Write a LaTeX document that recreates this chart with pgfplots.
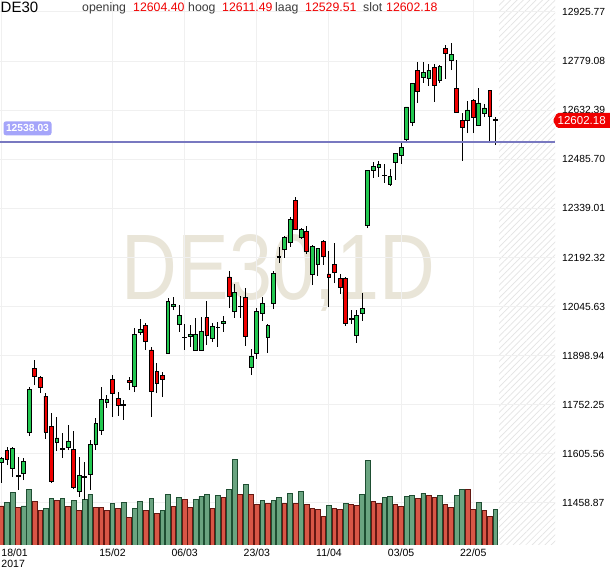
\documentclass[border=0pt]{standalone}
\usepackage{pgfplots}
\pgfplotsset{compat=1.18}
\usepackage{pgfplotstable}
\usepackage{fontspec}
\setmainfont{Liberation Sans}
\usetikzlibrary{patterns.meta}

\definecolor{cgreen}{RGB}{34,200,80}
\definecolor{cred}{RGB}{240,0,0}
\definecolor{vgreen}{RGB}{106,164,128}
\definecolor{vgreenD}{RGB}{30,78,50}
\definecolor{vred}{RGB}{216,86,70}
\definecolor{vredD}{RGB}{100,24,18}
\definecolor{gridc}{RGB}{240,240,240}
\definecolor{hatchc}{RGB}{228,228,228}
\definecolor{hline}{RGB}{120,120,192}
\definecolor{hlab}{RGB}{165,165,250}
\definecolor{wm}{RGB}{233,229,216}
\definecolor{hdr}{RGB}{60,60,60}

\pgfplotstableread{
i O H L C
0 11581 11596 11519 11593
1 11617 11626 11572 11590
2 11563 11626 11536 11623
3 11540 11596 11498 11539
4 11548 11593 11527 11584
5 11671 11805 11659 11799
6 11862 11886 11811 11838
7 11835 11838 11787 11805
8 11778 11787 11650 11671
9 11686 11728 11520 11524
10 11641 11716 11614 11653
11 11620 11668 11593 11621
12 11626 11692 11617 11644
13 11620 11674 11500 11504
14 11492 11596 11477 11542
15 11537 11581 11468 11536
16 11545 11647 11498 11635
17 11635 11713 11617 11695
18 11677 11805 11662 11767
19 11758 11781 11743 11767
20 11829 11841 11716 11787
21 11772 11790 11719 11749
22 11752 11767 11707 11751
23 11826 11835 11796 11820
24 11808 11982 11790 11961
25 11967 12009 11961 11976
26 11988 11997 11916 11940
27 11916 11925 11716 11793
28 11853 11877 11787 11817
29 11841 11850 11775 11829
30 11907 12071 11904 12060
31 12047 12074 12035 12053
32 11991 12050 11970 12020
33 11953 11994 11916 11952
34 11955 11991 11925 11961
35 11916 12012 11914 11961
36 11916 12014 11913 11970
37 12012 12062 11931 11958
38 11949 11997 11940 11985
39 11982 12000 11925 11983
40 11994 12017 11970 12000
41 12134 12152 12041 12077
42 12032 12113 12012 12089
43 12045 12077 12012 12046
44 12074 12101 11928 11955
45 11865 11919 11841 11898
46 11907 12041 11889 12032
47 12026 12074 12003 12056
48 11952 11994 11907 11990
49 12056 12152 12038 12144
50 12191 12224 12176 12195
51 12215 12257 12191 12251
52 12236 12313 12224 12307
53 12364 12373 12277 12277
54 12251 12280 12248 12277
55 12271 12286 12203 12209
56 12143 12230 12110 12224
57 12170 12221 12137 12220
58 12239 12245 12170 12194
59 12143 12212 12044 12134
60 12170 12236 12116 12149
61 12131 12143 12083 12104
62 12131 12133 11988 11994
63 12008 12035 11994 12009
64 11958 12035 11937 12020
65 12026 12086 12003 12041
66 12289 12451 12280 12451
67 12451 12478 12430 12463
68 12460 12481 12433 12469
69 12437 12472 12415 12436
70 12412 12457 12406 12433
71 12475 12504 12424 12502
72 12496 12534 12472 12522
73 12546 12642 12534 12642
74 12597 12714 12585 12711
75 12752 12776 12654 12687
76 12729 12776 12714 12744
77 12726 12770 12705 12752
78 12761 12770 12657 12705
79 12720 12766 12713 12764
80 12818 12827 12726 12803
81 12782 12833 12752 12800
82 12696 12782 12624 12627
83 12603 12624 12481 12582
84 12603 12660 12564 12633
85 12660 12666 12564 12612
86 12588 12699 12586 12654
87 12624 12651 12612 12639
88 12690 12692 12534 12615
89 12604.40 12611.49 12529.51 12602.18
}\candles

\pgfplotstableread{
i v
1 42.7
2 52.7
4 39
5 55.7
8 36.7
9 46.7
11 46.7
13 44.7
15 45.7
16 50.7
20 41.7
22 42.7
24 36.7
25 43.7
27 46.7
29 34.7
30 50.7
32 47.7
35 45.7
36 48.7
37 50.7
39 49.7
41 55.7
42 85.7
44 60.7
47 44.7
49 44.7
50 47.7
52 51.7
54 53.7
59 39.7
62 41.7
65 50.7
66 84.7
69 47.7
70 48.7
73 48.7
74 49.7
76 51.7
79 49.7
82 49.7
83 55.7
86 42.7
89 35.7
}\volg

\pgfplotstableread{
i v
0 39
3 37.7
6 43.7
7 34.7
10 44.7
12 38.7
14 34.7
17 37.7
18 37.7
19 34.7
21 36.7
23 27.7
26 34.7
28 31.7
31 38.7
33 45.7
34 37.7
38 36.7
40 47.7
43 50.7
45 50.7
46 40.7
48 41.7
51 41.7
53 41.7
55 40.7
56 36.7
57 35.7
58 28.7
60 36.7
61 35.7
63 40.7
64 39.7
67 43.7
68 41.7
71 40.7
72 38.7
75 46.7
77 49.7
78 47.7
80 40.7
81 37.7
84 55.7
85 35.7
87 34.7
88 28.7
}\volr

\newcommand{\fs}[1]{\fontsize{#1bp}{#1bp}\selectfont}

\pgfplotsset{
  base/.style={
    at={(0bp,23bp)}, anchor=south west, scale only axis,
    width=555bp, height=545bp,
    xmin=-0.27, xmax=99.73, ymin=11333.27, ymax=12961.62,
    axis line style={draw=none}, tick style={draw=none},
    xtick=\empty, ytick=\empty,
    /pgf/number format/assume math mode=true,
  }
}

\begin{document}
\begin{tikzpicture}
\path[use as bounding box] (0,0) rectangle (610bp,568bp);
\fill[white] (0,0) rectangle (610bp,568bp);
% hatched empty future area
\fill[pattern={Lines[angle=45,distance=4.5bp,line width=0.7bp]}, pattern color=hatchc] (499bp,23bp) rectangle (555bp,568bp);
% watermark
\node[text=wm, font=\fs{93}, xscale=0.83, anchor=base, inner sep=0pt] at (278.5bp,268bp) {DE30,1D};

% grid and tick labels
\begin{axis}[base, grid=major, major grid style={gridc,line width=1bp},
  ytick={11458.87,11605.56,11752.25,11898.94,12045.63,12192.32,12339.01,12485.70,12632.39,12779.08,12925.77},
  yticklabels={11458.87,11605.56,11752.25,11898.94,12045.63,12192.32,12339.01,12485.70,12632.39,12779.08,12925.77},
  yticklabel pos=right,
  yticklabel style={anchor=west, inner sep=0pt, xshift=7bp, font=\fs{10.3}},
  xtick={0,20,33,46,59,72,85},
  xticklabels={{\makebox[0pt][l]{\begin{tabular}{@{}l@{}}18/01\\2017\end{tabular}}},15/02,06/03,23/03,11/04,03/05,22/05},
  xticklabel style={anchor=north, inner sep=0pt, yshift=-4bp, font=\fs{10.5}},
]
\end{axis}

% volume
\begin{axis}[base, ymin=0, ymax=545, ybar, bar width=4.7bp]
\addplot[bar shift=0pt, fill=vgreen, draw=vgreenD, line width=0.85bp] table[x=i,y=v] {\volg};
\addplot[bar shift=0pt, fill=vred, draw=vredD, line width=0.85bp] table[x=i,y=v] {\volr};
\end{axis}

% wicks and reference line
\begin{axis}[base]
\addplot[draw=none, no markers, error bars/.cd, y dir=plus, y explicit, error mark=none,
  error bar style={draw=black, solid, line width=1bp}]
  table[x=i, y=L, y error expr=\thisrow{H}-\thisrow{L}] {\candles};
\addplot[hline, line width=1.7bp, no markers] coordinates {(-0.27,12538.03) (99.73,12538.03)};
\end{axis}

% bodies
\begin{axis}[base, ybar stacked, bar width=3.8bp]
\addplot[draw=none, fill=none] table[x=i, y expr={min(\thisrow{O},\thisrow{C})}] {\candles};
\addplot[fill=cgreen, draw=black, line width=0.9bp] table[x=i, y expr={max(\thisrow{C}-\thisrow{O},0)}] {\candles};
\addplot[fill=cred, draw=black, line width=0.9bp] table[x=i, y expr={max(\thisrow{O}-\thisrow{C},0)}] {\candles};
\end{axis}

% line label
\node[fill=hlab, text=white, rounded corners=2.5bp, inner sep=0pt, minimum width=48bp, minimum height=14bp, font=\bfseries\fs{10.3}] at (27.5bp,439.7bp) {12538.03};
% last price marker
\fill[cred, rounded corners=1.5bp] (553bp,447.5bp) -- (557bp,455bp) -- (614bp,455bp) -- (614bp,440bp) -- (557bp,440bp) -- cycle;
\node[anchor=west, text=white, inner sep=0pt, font=\fs{11.5}] at (557.5bp,447.5bp) {12602.18};

% header
\node[anchor=base west, inner sep=0pt, font=\fs{15}] at (0.5bp,555.5bp) {DE30};
\node[anchor=base west, inner sep=0pt, font=\fs{12.3}, text=hdr] at (82bp,556bp) {opening};
\node[anchor=base west, inner sep=0pt, font=\fs{12.3}, text=cred] at (133bp,556.5bp) {12604.40};
\node[anchor=base west, inner sep=0pt, font=\fs{12.3}, text=hdr] at (188bp,556bp) {hoog};
\node[anchor=base west, inner sep=0pt, font=\fs{12.3}, text=cred] at (222bp,556.5bp) {12611.49};
\node[anchor=base west, inner sep=0pt, font=\fs{12.3}, text=hdr] at (275bp,556bp) {laag};
\node[anchor=base west, inner sep=0pt, font=\fs{12.3}, text=cred] at (305bp,556.5bp) {12529.51};
\node[anchor=base west, inner sep=0pt, font=\fs{12.3}, text=hdr] at (363bp,556bp) {slot};
\node[anchor=base west, inner sep=0pt, font=\fs{12.3}, text=cred] at (386bp,556.5bp) {12602.18};
\end{tikzpicture}
\end{document}
